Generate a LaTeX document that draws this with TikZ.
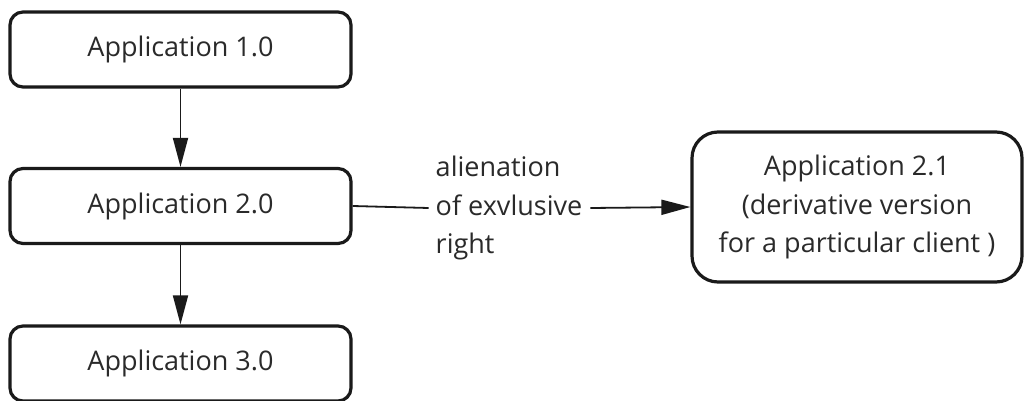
\documentclass[tikz,border=0pt]{standalone}
\usepackage{fontspec}
\setmainfont{Open Sans}
\usetikzlibrary{arrows.meta}
\definecolor{ink}{HTML}{1A1A1A}
\definecolor{txt}{HTML}{2A2A2A}
\begin{document}
\begin{tikzpicture}[x=1pt,y=-1pt,
  font=\fontsize{27}{38.5}\selectfont,
  appbox/.style={draw=ink, line width=3.2pt, rounded corners=13pt,
    text=txt, minimum width=341pt, minimum height=75pt, inner sep=0pt},
  bigbox/.style={draw=ink, line width=3.2pt, rounded corners=26pt,
    text=txt, minimum width=330pt, minimum height=150pt, inner sep=0pt,
    align=center},
  link/.style={draw=ink, line width=1.8pt},
  flow/.style={link, -{Triangle[length=29pt,width=15pt]}}]
\useasboundingbox (0,0) rectangle (1025,401);
\fill[white] (0,0) rectangle (1025,401);

\node[appbox] (a1) at (180.5,49.5) {Application 1.0};
\node[appbox] (a2) at (180.5,206) {Application 2.0};
\node[appbox] (a3) at (180.5,363.5) {Application 3.0};
\node[bigbox] (a21) at (857,207) {Application 2.1\\(derivative version\\for a particular client )};

\node[text=txt, align=left, inner sep=0pt] (lbl) at (509,208)
  {alienation\\of exvlusive\\right};

\draw[flow] (a1) -- (a2);
\draw[flow] (a2) -- (a3);
\draw[link] (a2.east) -- ([xshift=-7pt]lbl.west);
\draw[flow] ([xshift=8pt]lbl.east) -- (a21.west);
\end{tikzpicture}
\end{document}
